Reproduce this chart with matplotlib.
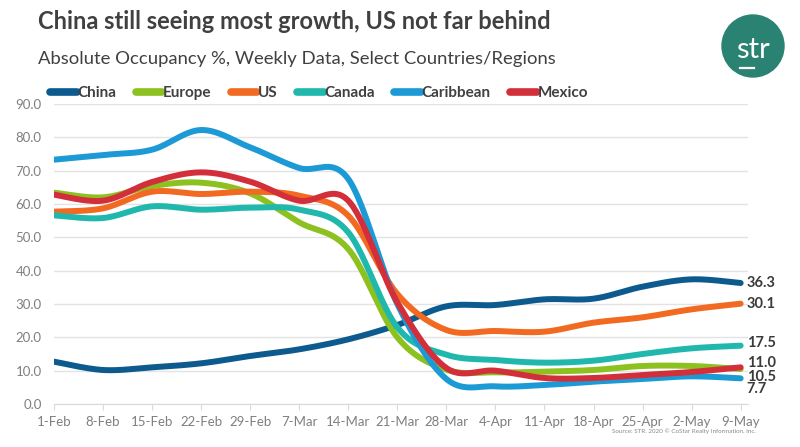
import numpy as np
import matplotlib
matplotlib.use("Agg")
import matplotlib.pyplot as plt
from matplotlib.patches import Circle
from matplotlib.lines import Line2D

plt.rcParams['font.family'] = ['Lato', 'DejaVu Sans']

weeks = ["1-Feb", "8-Feb", "15-Feb", "22-Feb", "29-Feb", "7-Mar", "14-Mar", "21-Mar",
         "28-Mar", "4-Apr", "11-Apr", "18-Apr", "25-Apr", "2-May", "9-May"]

china = [12.7, 10.2, 11.0, 12.2, 14.4, 16.4, 19.4, 23.7, 29.3, 29.7, 31.4, 31.6, 35.2, 37.4, 36.3]
europe = [63.4, 62.0, 65.4, 66.4, 63.2, 54.5, 46.5, 20.0, 10.3, 9.5, 9.7, 10.2, 11.4, 11.4, 10.5]
us = [57.7, 58.7, 63.7, 63.0, 63.7, 62.5, 56.5, 33.0, 22.2, 21.9, 21.7, 24.4, 26.0, 28.4, 30.1]
canada = [56.6, 55.8, 59.3, 58.3, 58.9, 58.3, 51.5, 23.0, 14.8, 13.2, 12.4, 13.0, 15.0, 16.7, 17.5]
caribbean = [73.3, 74.7, 76.3, 82.2, 77.0, 70.8, 67.5, 30.0, 7.5, 5.3, 5.7, 6.7, 7.5, 8.3, 7.7]
mexico = [62.8, 61.0, 66.6, 69.5, 66.7, 61.0, 61.0, 30.5, 10.8, 10.0, 7.8, 7.8, 8.7, 9.6, 11.0]

series_names = ["China", "Europe", "US", "Canada", "Caribbean", "Mexico"]
series_vals = [china, europe, us, canada, caribbean, mexico]
colors = ["#0D5A8E", "#8CC11F", "#F26A21", "#20B8AD", "#1C9AD6", "#D32F3B"]
end_labels = ["36.3", "30.1", "17.5", "10.5", "7.7", "11.0"]
label_y = [36.3, 30.1, 18.4, 8.2, 4.4, 12.4]


def smooth(y, n=30):
    """Catmull-Rom smoothing (like Excel smoothed lines)."""
    y = np.asarray(y, dtype=float)
    x = np.arange(len(y), dtype=float)
    P = np.column_stack([x, y])
    P = np.vstack([P[0], P, P[-1]])
    out = []
    for i in range(1, len(P) - 2):
        p0, p1, p2, p3 = P[i - 1], P[i], P[i + 1], P[i + 2]
        c1 = p1 + (p2 - p0) / 6.0
        c2 = p2 - (p3 - p1) / 6.0
        t = np.linspace(0, 1, n, endpoint=(i == len(P) - 3))[:, None]
        b = ((1 - t) ** 3) * p1 + 3 * ((1 - t) ** 2) * t * c1 + 3 * (1 - t) * t ** 2 * c2 + t ** 3 * p2
        out.append(b)
    out = np.vstack(out)
    return out[:, 0], out[:, 1]


fig = plt.figure(figsize=(8, 4.47), dpi=100)
ax = fig.add_axes([0.0675, 0.0962, 0.8675, 0.6711])

for name, vals, c in zip(series_names, series_vals, colors):
    xs, ys = smooth(vals)
    ax.plot(xs, ys, color=c, lw=4.3, solid_capstyle='round', label=name, zorder=3)

for txt, ly in zip(end_labels, label_y):
    ax.text(len(weeks) - 1 + 0.12, ly, txt, ha='left', va='center', fontsize=10.5,
            fontweight='bold', color='#3A3A3A', clip_on=False)

ax.set_xlim(0, len(weeks) - 1 + 0.15)
ax.set_ylim(0, 90)
ax.set_yticks(np.arange(0, 91, 10))
ax.set_yticklabels([f"{v:.1f}" for v in np.arange(0, 91, 10)])
ax.set_xticks(np.arange(len(weeks)))
ax.set_xticklabels(weeks)
ax.grid(axis='y', color='#E3E3E3', lw=1)
ax.set_axisbelow(True)
for s in ['top', 'right', 'left']:
    ax.spines[s].set_visible(False)
ax.spines['bottom'].set_color('#D9D9D9')
ax.tick_params(axis='y', length=0, pad=9, labelsize=9.5, labelcolor='#7F7F7F')
ax.tick_params(axis='x', length=4, color='#D9D9D9', pad=5, labelsize=9.5, labelcolor='#7F7F7F')

handles = [Line2D([0], [0], color=c, lw=5.5, solid_capstyle='round') for c in colors]
fig.legend(handles, series_names, loc='center left', bbox_to_anchor=(0.0625, 1 - 93 / 447), ncol=6,
           frameon=False, handlelength=1.75, handletextpad=0.05, columnspacing=1.25,
           borderpad=0, borderaxespad=0,
           prop={'weight': 'bold', 'size': 11}, labelcolor='#404040')

fig.text(0.047, 0.952, "China still seeing most growth, US not far behind", fontsize=17,
         fontweight='bold', color='#404040', va='center', ha='left')
fig.text(0.047, 0.868, "Absolute Occupancy %, Weekly Data, Select Countries/Regions", fontsize=13.3,
         color='#404040', va='center', ha='left')

# STR logo
logo = Circle((753, 447 - 46), 31, transform=None, color='#2A8272', zorder=5)
fig.patches.append(logo)
fig.text(753 / 800, 1 - 50 / 447, "str", color='white', fontsize=21, ha='center', va='center',
         zorder=6)
fig.add_artist(Line2D([740 / 800, 754 / 800], [1 - 68 / 447, 1 - 68 / 447], color='white', lw=1.6,
                      zorder=6))

fig.text(0.945, 0.035, "Source: STR. 2020 © CoStar Realty Information, Inc.", fontsize=4.5,
         color='#8A8A8A', ha='right', va='center')

fig.savefig("out.png", dpi=100, facecolor='white')
